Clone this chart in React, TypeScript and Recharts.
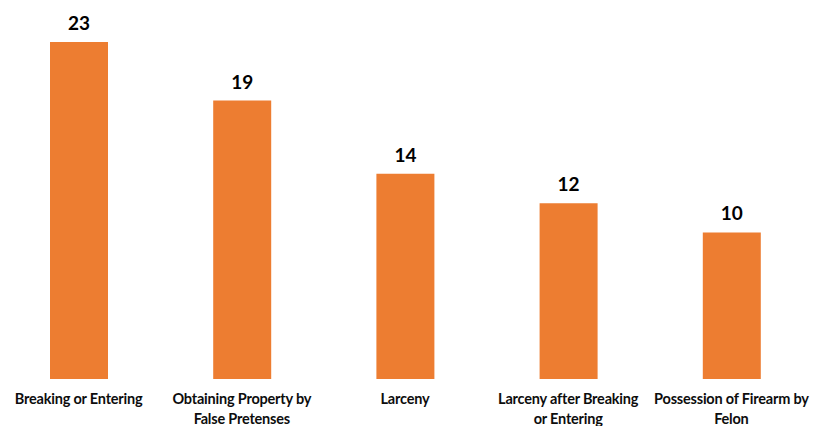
import { BarChart, Bar, XAxis, YAxis, LabelList } from 'recharts'

const categories = [
  'Breaking or Entering',
  'Obtaining Property by\nFalse Pretenses',
  'Larceny',
  'Larceny after Breaking\nor Entering',
  'Possession of Firearm by\nFelon',
]
const counts = [23, 19, 14, 12, 10]

const data = categories.map((name, i) => ({ name, count: counts[i] }))

function CategoryTick({ x, y, payload }: any) {
  const lines = String(payload.value).split('\n')
  return (
    <text
      x={x}
      y={y}
      textAnchor="middle"
      fontFamily="Lato, 'Open Sans', sans-serif"
      fontWeight={700}
      fontSize={14.5}
      letterSpacing={-0.2}
      fill="#0d0d0d"
    >
      {lines.map((line, i) => (
        <tspan key={i} x={x} dy={i === 0 ? 17 : 20}>
          {line}
        </tspan>
      ))}
    </text>
  )
}

export default function App() {
  return (
    <div style={{ marginLeft: -11, marginTop: -8, background: '#fff' }}>
      <BarChart
        width={816}
        height={426}
        data={data}
        margin={{ top: 42, right: 0, left: 0, bottom: 0 }}
      >
        <XAxis
          dataKey="name"
          axisLine={false}
          tickLine={false}
          interval={0}
          height={47}
          tick={<CategoryTick />}
        />
        <YAxis hide domain={[0, 23]} />
        <Bar dataKey="count" fill="#ED7D31" barSize={58} isAnimationActive={false}>
          <LabelList
            dataKey="count"
            position="top"
            offset={12}
            style={{
              fontFamily: "Lato, 'Open Sans', sans-serif",
              fontWeight: 700,
              fontSize: 19,
              fill: '#000',
            }}
          />
        </Bar>
      </BarChart>
    </div>
  )
}
